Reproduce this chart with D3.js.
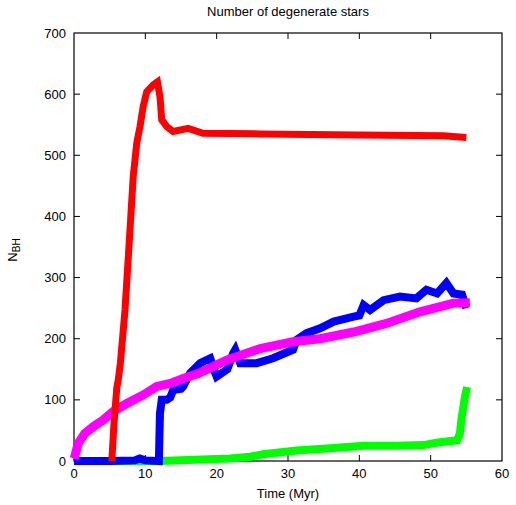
<!DOCTYPE html>
<html><head><meta charset="utf-8">
<script src="https://cdn.jsdelivr.net/npm/d3@7"></script>
<style>body{margin:0;background:#fff}svg{display:block}text{font-family:"Liberation Sans",Arial,sans-serif;fill:#000}</style>
</head><body><svg id="c" width="516" height="505"></svg>
<script>
const title = "Number of degenerate stars";
const xLabel = "Time (Myr)";
const xTicks = [0,10,20,30,40,50,60];
const yTicks = [0,100,200,300,400,500,600,700];

// time (Myr), count
const redT = [5.3,5.6,6.0,6.2,6.5,7.15,7.85,8.3,8.8,9.25,9.7,10.2,11.1,11.7,12.05,12.3,12.5,13.0,13.9,16.0,18.1,26.1,40.1,51.8,55.0];
const redV = [0,60,120,132,160,247,378,465,520,547,580,604,615,620,596,558,555,547,539,544,536,535,533,532,529];

const blueT = [0,5,8.5,9.2,10,11.9,12.05,12.3,13.0,13.5,13.9,15.0,15.3,16.3,17.7,19.1,19.6,20.0,21.5,22.3,22.6,23.3,25.6,27.9,30.7,31.2,32.6,34.5,36.4,39.2,40.0,40.6,41.5,43.4,45.7,48.0,49.4,50.9,52.2,53.2,54.4,55.0];
const blueV = [0,0,1,4,1,0,78,100,100,104,116,118,122,144,160,168,150,138,150,176,182,160,160,168,182,198,209,217,228,236,238,255,247,263,269,266,280,274,291,274,272,250];

const magT = [0,0.1,0.6,1.5,2.7,4.1,5.5,7.4,9.7,11.6,13.5,15.3,17.4,21.4,26.1,30.7,34.5,39.2,43.8,48.5,53.2,55.5];
const magV = [4,7,29,45,56,67,81,94,108,122,127,135,143,165,184,195,200,211,225,244,258,259];

const greenT = [0,12,21.9,24.7,26.5,31.2,35.9,40.6,45.2,49.0,50.8,53.7,54.1,54.3,54.8,55.1];
const greenV = [0,0,4,7,11,17,21,25,25,26,30,34,45,67,105,121];

const series = [
  {name:"green", t:greenT, v:greenV, color:"#00ff00", w:8},
  {name:"blue", t:blueT, v:blueV, color:"#0000ff", w:8},
  {name:"magenta", t:magT, v:magV, color:"#ff00ff", w:9},
  {name:"red", t:redT, v:redV, color:"#ff0000", w:7}
];

const svg = d3.select("#c");
const L=74, T=33, W=428, H=428;
const x = d3.scaleLinear().domain([0,60]).range([0,W]);
const y = d3.scaleLinear().domain([0,700]).range([H,0]);
const g = svg.append("g").attr("transform",`translate(${L},${T})`);

// frame
g.append("rect").attr("x",0).attr("y",0).attr("width",W).attr("height",H)
 .attr("fill","none").attr("stroke","#000").attr("stroke-width",1.2);

// ticks (inward, mirrored)
const tl = 6;
xTicks.forEach(t=>{
  const px = x(t);
  if (t>0 && t<60){
    g.append("line").attr("x1",px).attr("x2",px).attr("y1",H).attr("y2",H-tl).attr("stroke","#000");
    g.append("line").attr("x1",px).attr("x2",px).attr("y1",0).attr("y2",tl).attr("stroke","#000");
  }
  g.append("text").attr("x",px).attr("y",H+17).attr("text-anchor","middle").attr("font-size",13).text(t);
});
yTicks.forEach(t=>{
  const py = y(t);
  if (t>0 && t<700){
    g.append("line").attr("x1",0).attr("x2",tl).attr("y1",py).attr("y2",py).attr("stroke","#000");
    g.append("line").attr("x1",W).attr("x2",W-tl).attr("y1",py).attr("y2",py).attr("stroke","#000");
  }
  g.append("text").attr("x",-8).attr("y",py).attr("dy","0.35em").attr("text-anchor","end").attr("font-size",13).text(t);
});

// series
const line = d3.line().x(d=>x(d[0])).y(d=>y(d[1]));
series.forEach(s=>{
  const pts = s.t.map((t,i)=>[t,s.v[i]]);
  g.append("path").datum(pts).attr("d",line).attr("fill","none")
   .attr("stroke",s.color).attr("stroke-width",s.w).attr("stroke-linejoin","miter").attr("stroke-linecap","butt");
});

// labels
svg.append("text").attr("x",L+W/2).attr("y",16).attr("text-anchor","middle").attr("font-size",13).text(title);
svg.append("text").attr("x",L+W/2).attr("y",498).attr("text-anchor","middle").attr("font-size",13).text(xLabel);
const yl = svg.append("text").attr("transform","translate(17,250) rotate(-90)").attr("text-anchor","middle").attr("font-size",13);
yl.append("tspan").text("N");
yl.append("tspan").attr("dy",3).attr("font-size",10).text("BH");
</script></body></html>
